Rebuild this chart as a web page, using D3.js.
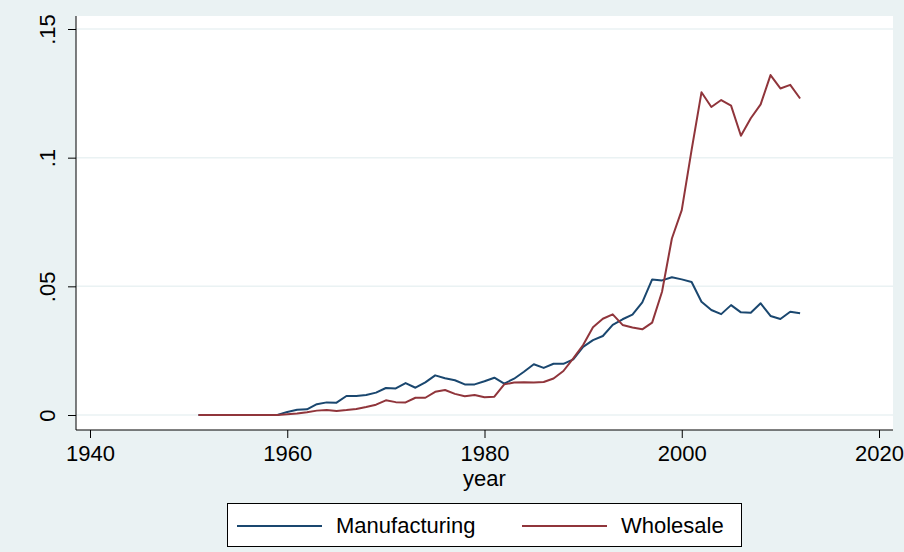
<!DOCTYPE html>
<head>
  <meta charset="utf-8">
  <script src="https://d3js.org/d3.v7.min.js"></script>
  <style>
    body { margin:0; background:#eaf2f3; }
    svg { display:block; font-family: "Liberation Sans", Arial, Helvetica, sans-serif; }
  </style>
</head>

<body>
  <script>
    // data
    var years = d3.range(1951, 2013);
    var manufacturing = [
      0, 0, 0, 0, 0, 0, 0, 0, 0,                                    // 1951-1959
      0.0012, 0.0020, 0.0022, 0.0042, 0.0049, 0.0048, 0.0074, 0.0074, 0.0078, 0.0087, // 1960-1969
      0.0105, 0.0103, 0.0124, 0.0106, 0.0127, 0.0154, 0.0143, 0.0135, 0.0119, 0.0119, // 1970-1979
      0.0131, 0.0145, 0.0122, 0.0141, 0.0168, 0.0197, 0.0183, 0.0199, 0.0199, 0.0216, // 1980-1989
      0.0265, 0.0291, 0.0307, 0.0350, 0.0372, 0.0390, 0.0438, 0.0527, 0.0523, 0.0535, // 1990-1999
      0.0527, 0.0517, 0.0440, 0.0408, 0.0392, 0.0427, 0.0399, 0.0397, 0.0434, 0.0385, // 2000-2009
      0.0373, 0.0401, 0.0395                                        // 2010-2012
    ];
    var wholesale = [
      0, 0, 0, 0, 0, 0, 0, 0, 0,
      0.0003, 0.0006, 0.0011, 0.0017, 0.0019, 0.0016, 0.0019, 0.0023, 0.0031, 0.0040,
      0.0057, 0.0050, 0.0049, 0.0067, 0.0067, 0.0090, 0.0097, 0.0082, 0.0073, 0.0078,
      0.0069, 0.0071, 0.0119, 0.0126, 0.0127, 0.0126, 0.0128, 0.0142, 0.0171, 0.0220,
      0.0272, 0.0341, 0.0374, 0.0391, 0.0350, 0.0340, 0.0333, 0.0359, 0.0479, 0.0686,
      0.0796, 0.1030, 0.1254, 0.1197, 0.1224, 0.1202, 0.1085, 0.1153, 0.1207, 0.1321,
      0.1269, 0.1283, 0.1230
    ];
    var seriesNames = ["Manufacturing", "Wholesale"];
    var seriesColors = ["#1a476f", "#90353b"];
    var xTicks = [1940, 1960, 1980, 2000, 2020];
    var yTicks = [0, 0.05, 0.1, 0.15];
    var yTickLabels = ["0", ".05", ".1", ".15"];

    var width = 904, height = 552;
    var plot = { left: 76, right: 893, top: 16, bottom: 430 };
    var fs = 22;

    var svg = d3.select("body").append("svg")
        .attr("width", width)
        .attr("height", height);

    svg.append("rect").attr("width", width).attr("height", height).attr("fill", "#eaf2f3");
    svg.append("rect")
        .attr("x", plot.left).attr("y", plot.top)
        .attr("width", plot.right - plot.left).attr("height", plot.bottom - plot.top)
        .attr("fill", "#fff");

    var x = d3.scaleLinear().domain([1940, 2020]).range([90, 879]);
    var y = d3.scaleLinear().domain([0, 0.15]).range([415, 29]);

    // grid lines
    svg.append("g").selectAll("line")
      .data(yTicks).enter().append("line")
        .attr("x1", plot.left).attr("x2", plot.right)
        .attr("y1", function(d) { return y(d); })
        .attr("y2", function(d) { return y(d); })
        .attr("stroke", "#eaf2f3").attr("stroke-width", 1.5);

    // y axis
    var yAxis = svg.append("g")
        .attr("transform", "translate(" + plot.left + ",0)")
        .call(d3.axisLeft(y).tickValues(yTicks).tickSize(8).tickPadding(0)
          .tickFormat(function(d, i) { return yTickLabels[i]; }));
    yAxis.select(".domain").attr("d", "M0," + plot.top + "V" + plot.bottom).attr("stroke", "#000");
    yAxis.selectAll(".tick line").attr("stroke", "#000");
    yAxis.selectAll(".tick text")
        .attr("transform", "translate(-21,0) rotate(-90)")
        .attr("x", 0).attr("y", 0).attr("dy", 0)
        .attr("text-anchor", "middle")
        .attr("font-size", fs).attr("fill", "#000");

    // x axis
    var xAxis = svg.append("g")
        .attr("transform", "translate(0," + plot.bottom + ")")
        .call(d3.axisBottom(x).tickValues(xTicks).tickSize(8).tickPadding(5)
          .tickFormat(d3.format("d")));
    xAxis.select(".domain").attr("d", "M" + plot.left + ",0H" + plot.right).attr("stroke", "#000");
    xAxis.selectAll(".tick line").attr("stroke", "#000");
    xAxis.selectAll(".tick text").attr("font-size", fs).attr("fill", "#000").attr("dy", "0.82em");

    svg.append("text")
        .attr("x", x(1980)).attr("y", 486)
        .attr("text-anchor", "middle")
        .attr("font-size", fs)
        .text("year");

    // lines
    var line = d3.line()
        .x(function(d) { return x(d[0]); })
        .y(function(d) { return y(d[1]); });

    [manufacturing, wholesale].forEach(function(vals, i) {
      svg.append("path")
        .datum(years.map(function(yr, j) { return [yr, vals[j]]; }))
        .attr("d", line)
        .attr("fill", "none")
        .attr("stroke", seriesColors[i])
        .attr("stroke-width", 2)
        .attr("stroke-linejoin", "round");
    });

    // legend
    var legend = svg.append("g");
    legend.append("rect")
        .attr("x", 227.5).attr("y", 503.5)
        .attr("width", 514).attr("height", 43)
        .attr("fill", "#fff").attr("stroke", "#000").attr("stroke-width", 1);
    var legendX = [237, 522];
    seriesNames.forEach(function(name, i) {
      legend.append("line")
        .attr("x1", legendX[i]).attr("x2", legendX[i] + 85)
        .attr("y1", 526).attr("y2", 526)
        .attr("stroke", seriesColors[i]).attr("stroke-width", 2);
      legend.append("text")
        .attr("x", legendX[i] + 99).attr("y", 533)
        .attr("font-size", fs)
        .text(name);
    });
  </script>
</body>
